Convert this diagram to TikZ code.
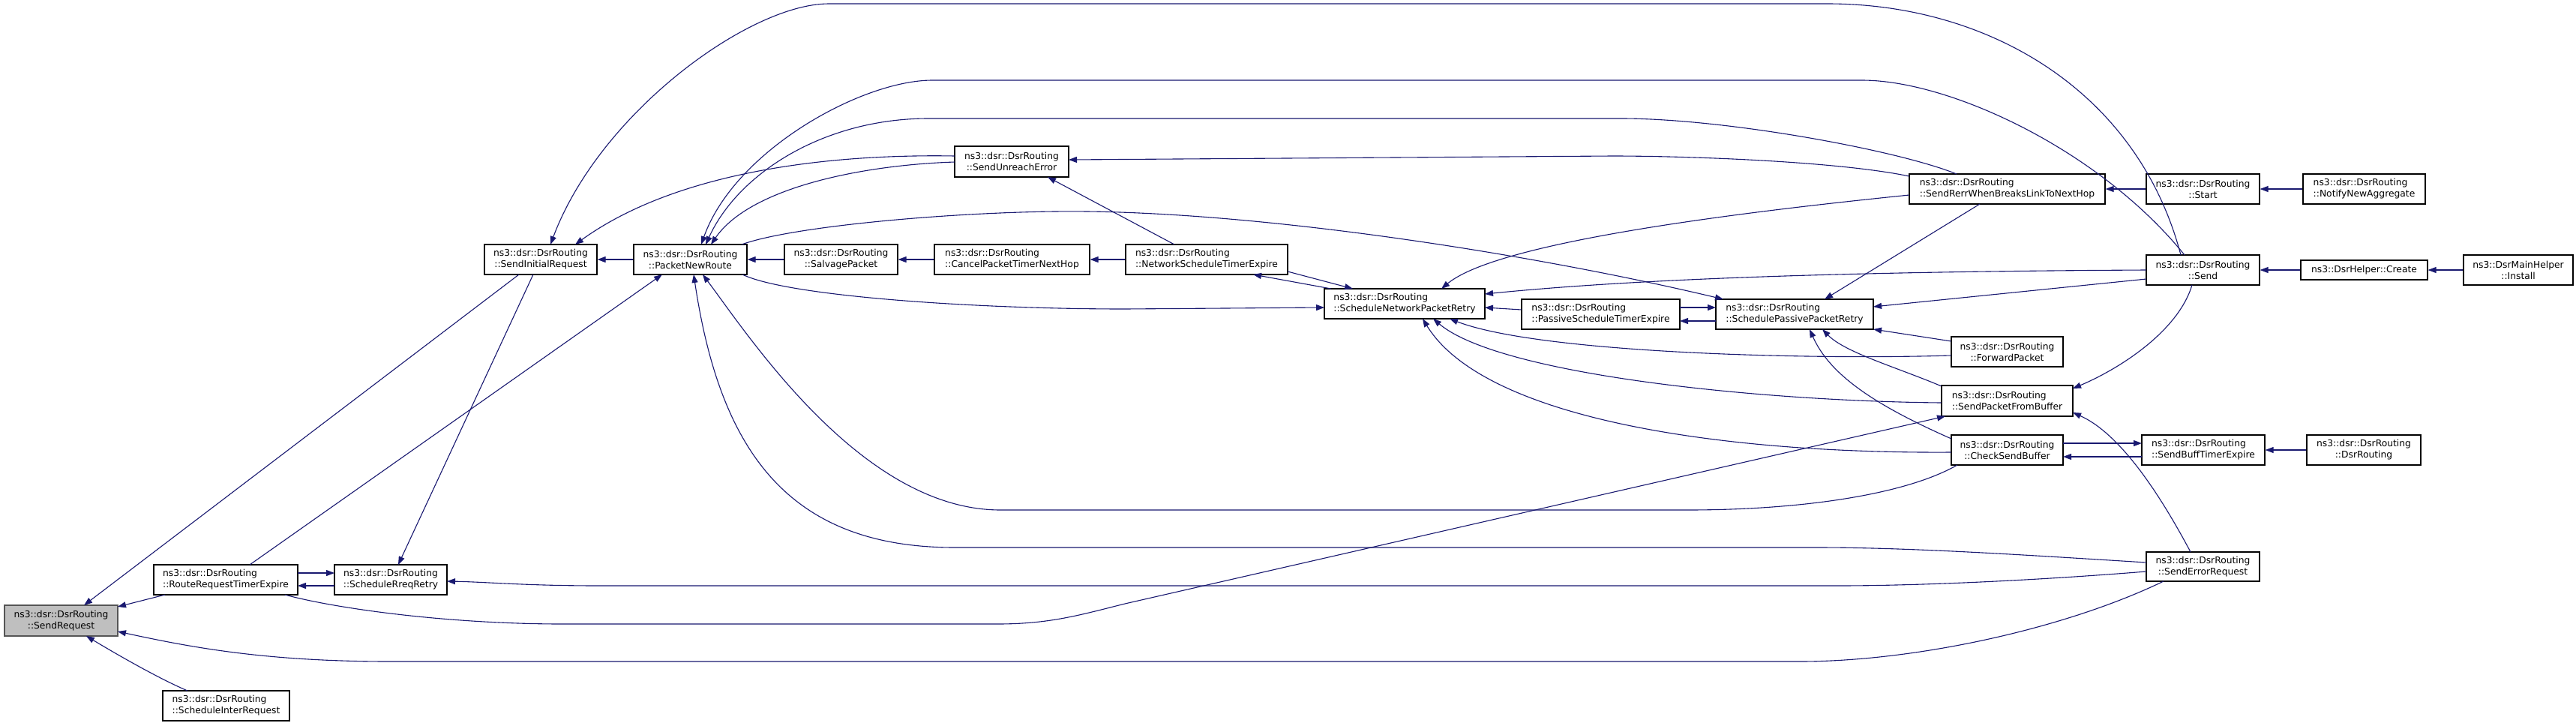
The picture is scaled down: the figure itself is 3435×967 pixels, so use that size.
\documentclass[tikz,border=0pt]{standalone}
\usepackage{fontspec}
\setmainfont{DejaVu Sans}
\usetikzlibrary{arrows.meta,calc}
\definecolor{edgeblue}{HTML}{191970}
\definecolor{rootfill}{HTML}{BFBFBF}
\definecolor{rootdraw}{HTML}{555555}
\begin{document}
\begin{tikzpicture}[x=1pt,y=-1pt,
  fn/.style={draw=black, fill=white, line width=1.2pt, inner sep=0pt, minimum height=40pt,
             font=\fontsize{12.3}{15}\selectfont, align=center},
  fnl/.style={fn, align=left},
  root/.style={fn, fill=rootfill, draw=rootdraw},
  call/.style={draw=edgeblue, line width=1.1pt, -{Triangle[length=11pt,width=8pt]}}
]
\useasboundingbox (0,0) rectangle (3435,967);

% nodes
\node[root, minimum width=151pt, minimum height=41pt] (req) at (81.5,827.5) {ns3::dsr::DsrRouting\\::SendRequest};
\node[fnl, minimum width=192pt] (rrte) at (301,773) {ns3::dsr::DsrRouting\\::RouteRequestTimerExpire};
\node[fnl, minimum width=169pt] (sir2) at (301.5,941) {ns3::dsr::DsrRouting\\::ScheduleInterRequest};
\node[fn, minimum width=150pt] (srr) at (521,773) {ns3::dsr::DsrRouting\\::ScheduleRreqRetry};
\node[fn, minimum width=150pt] (sir) at (721,346) {ns3::dsr::DsrRouting\\::SendInitialRequest};
\node[fn, minimum width=151pt] (pnr) at (920.5,346) {ns3::dsr::DsrRouting\\::PacketNewRoute};
\node[fn, minimum width=151pt] (salv) at (1121.5,346) {ns3::dsr::DsrRouting\\::SalvagePacket};
\node[fnl, minimum width=207pt] (cancel) at (1349.5,346) {ns3::dsr::DsrRouting\\::CancelPacketTimerNextHop};
\node[fnl, minimum width=216pt] (nste) at (1609,346) {ns3::dsr::DsrRouting\\::NetworkScheduleTimerExpire};
\node[fn, minimum width=152pt, minimum height=41pt] (sue) at (1349,215.5) {ns3::dsr::DsrRouting\\::SendUnreachError};
\node[fnl, minimum width=214pt] (snpr) at (1873,405) {ns3::dsr::DsrRouting\\::ScheduleNetworkPacketRetry};
\node[fnl, minimum width=211pt] (pste) at (2134.5,419) {ns3::dsr::DsrRouting\\::PassiveScheduleTimerExpire};
\node[fnl, minimum width=210pt] (sppr) at (2393,419) {ns3::dsr::DsrRouting\\::SchedulePassivePacketRetry};
\node[fnl, minimum width=261pt] (rerr) at (2676.5,252) {ns3::dsr::DsrRouting\\::SendRerrWhenBreaksLinkToNextHop};
\node[fn, minimum width=151pt] (start) at (2937.5,252) {ns3::dsr::DsrRouting\\::Start};
\node[fnl, minimum width=163pt] (notify) at (3152.5,252) {ns3::dsr::DsrRouting\\::NotifyNewAggregate};
\node[fn, minimum width=151pt] (send) at (2937.5,360) {ns3::dsr::DsrRouting\\::Send};
\node[fn, minimum width=169pt, minimum height=26pt] (create) at (3152.5,360) {ns3::DsrHelper::Create};
\node[fn, minimum width=146pt] (install) at (3358,360) {ns3::DsrMainHelper\\::Install};
\node[fn, minimum width=149pt] (fwd) at (2676.5,469) {ns3::dsr::DsrRouting\\::ForwardPacket};
\node[fnl, minimum width=175pt, minimum height=41pt] (spfb) at (2676.5,534.5) {ns3::dsr::DsrRouting\\::SendPacketFromBuffer};
\node[fn, minimum width=149pt] (csb) at (2676.5,600) {ns3::dsr::DsrRouting\\::CheckSendBuffer};
\node[fnl, minimum width=164pt] (sbte) at (2938,600) {ns3::dsr::DsrRouting\\::SendBuffTimerExpire};
\node[fn, minimum width=152pt] (ctor) at (3152,600) {ns3::dsr::DsrRouting\\::DsrRouting};
\node[fn, minimum width=151pt, minimum height=39pt] (ser) at (2937.5,755.5) {ns3::dsr::DsrRouting\\::SendErrorRequest};

% edges into SendRequest
\draw[call] ($(sir)+(-29,20)$) -- ($(req)+(30.5,-20.5)$);
\draw[call] ($(rrte)+(-81,20)$) -- ($(req)+(75.5,-18.5)$);
\draw[call] ($(sir2)+(-51.5,-20)$) .. controls (215,906) and (165,878) .. ($(req)+(33.5,20.5)$);
\draw[call] ($(ser)+(-52.5,19.5)$) .. controls (2750,840) and (2550,882) .. (2400,882) -- (520,882)
   .. controls (350,882) and (250,862) .. ($(req)+(75.5,14.5)$);

% RouteRequestTimerExpire <-> ScheduleRreqRetry
\draw[call] ($(rrte)+(96,-9)$) -- ($(srr)+(-75,-9)$);
\draw[call] ($(srr)+(-75,8)$) -- ($(rrte)+(96,8)$);
\draw[call] ($(ser)+(-75.5,6.5)$) .. controls (2700,775) and (2550,781) .. (2450,781) -- (800,781)
   .. controls (700,781) and (650,776) .. ($(srr)+(75,2)$);
\draw[call] ($(sir)+(-10,20)$) -- ($(srr)+(10,-20)$);

% PacketNewRoute and chain
\draw[call] ($(rrte)+(32,-20)$) -- ($(pnr)+(-37.5,20)$);
\draw[call] (pnr.west) -- (sir.east);
\draw[call] (salv.west) -- (pnr.east);
\draw[call] (cancel.west) -- (salv.east);
\draw[call] (nste.west) -- (cancel.east);

% top arcs
\draw[call] ($(send)+(-29.5,-20)$) .. controls (2850,120) and (2650,5) .. (2437,5) -- (1105,5)
   .. controls (1000,5) and (800,150) .. ($(sir)+(13,-20)$);
\draw[call] ($(send)+(-24.5,-20)$) .. controls (2800,200) and (2600,107) .. (2483,107) -- (1243,107)
   .. controls (1150,107) and (980,200) .. ($(pnr)+(14.5,-20)$);
\draw[call] ($(rerr)+(-67.5,-20)$) .. controls (2530,200) and (2300,158) .. (2162,158) -- (1238,158)
   .. controls (1100,158) and (985,230) .. ($(pnr)+(20.5,-20)$);
\draw[call] ($(sue)+(-76,0.5)$) .. controls (1150,220) and (1000,250) .. ($(pnr)+(27.5,-20)$);
\draw[call] ($(sue)+(-76,-7.5)$) .. controls (1100,205) and (900,230) .. ($(sir)+(46,-20)$);
\draw[call] ($(rerr)+(-130.5,-17)$) .. controls (2450,215) and (2250,208) .. (2150,208) -- ($(sue)+(76,-2.5)$);
\draw[call] ($(nste)+(-43,-20)$) -- ($(sue)+(48,20.5)$);

% PacketNewRoute -> retry functions
\draw[call] ($(pnr)+(68.5,-20)$) .. controls (1060,300) and (1300,280) .. (1450,282)
   .. controls (1700,285) and (2050,340) .. ($(sppr)+(-95,-20)$);
\draw[call] ($(pnr)+(69.5,20)$) .. controls (1050,395) and (1300,412) .. (1500,412) -- ($(snpr)+(-107,5)$);
\draw[call] ($(nste)+(108,16)$) -- ($(snpr)+(-69,-20)$);
\draw[call] ($(snpr)+(-98,-20)$) -- ($(nste)+(62,20)$);

% into ScheduleNetworkPacketRetry / SchedulePassivePacketRetry
\draw[call] ($(rerr)+(-130.5,8)$) .. controls (2350,280) and (2000,320) .. ($(snpr)+(49,-20)$);
\draw[call] ($(rerr)+(-36.5,20)$) -- ($(sppr)+(40,-20)$);
\draw[call] ($(send)+(-75.5,0)$) .. controls (2500,362) and (2200,370) .. ($(snpr)+(107,-13)$);
\draw[call] ($(send)+(-75.5,12)$) -- ($(sppr)+(105,-10)$);
\draw[call] ($(pste)+(-105.5,-6)$) -- ($(snpr)+(107,5)$);
\draw[call] ($(pste)+(105.5,-9)$) -- ($(sppr)+(-105,-9)$);
\draw[call] ($(sppr)+(-105,9)$) -- ($(pste)+(105.5,9)$);
\draw[call] ($(fwd)+(-74.5,-14)$) -- ($(sppr)+(105,20)$);
\draw[call] ($(fwd)+(-74.5,5)$) .. controls (2400,480) and (2050,470) .. ($(snpr)+(60,20)$);
\draw[call] ($(spfb)+(-87.5,2.5)$) .. controls (2350,535) and (2000,500) .. ($(snpr)+(38,20)$);
\draw[call] ($(spfb)+(-87.5,-19.5)$) .. controls (2530,490) and (2460,470) .. ($(sppr)+(37,20)$);
\draw[call] ($(csb)+(-74.5,3)$) .. controls (2300,605) and (1980,560) .. ($(snpr)+(24,20)$);
\draw[call] ($(csb)+(-74.5,-15)$) .. controls (2500,540) and (2440,500) .. ($(sppr)+(20,20)$);

% SendPacketFromBuffer
\draw[call] ($(send)+(-14.5,20)$) .. controls (2905,440) and (2830,490) .. ($(spfb)+(87.5,-16.5)$);
\draw[call] ($(ser)+(-16.5,-19.5)$) .. controls (2870,640) and (2820,575) .. ($(spfb)+(87.5,15.5)$);
\draw[call] ($(rrte)+(79,20)$) .. controls (450,812) and (600,832) .. (750,832) -- (1330,832)
   .. controls (1400,832) and (1440,820) .. (1500,805) -- ($(spfb)+(-82.5,20.5)$);

% CheckSendBuffer <-> SendBuffTimerExpire
\draw[call] ($(csb)+(74.5,-9)$) -- ($(sbte)+(-82,-9)$);
\draw[call] ($(sbte)+(-82,9)$) -- ($(csb)+(74.5,9)$);
\draw[call] (ctor.west) -- (sbte.east);

% long curves into PacketNewRoute bottom
\draw[call] ($(csb)+(-66.5,20)$) .. controls (2540,660) and (2400,680) .. (2250,680) -- (1334,680)
   .. controls (1150,680) and (1000,450) .. ($(pnr)+(16.5,20)$);
\draw[call] ($(ser)+(-75.5,-5.5)$) .. controls (2700,740) and (2550,730) .. (2423,730) -- (1273,730)
   .. controls (1050,730) and (960,600) .. ($(pnr)+(4.5,20)$);

% right side chains
\draw[call] (start.west) -- (rerr.east);
\draw[call] (notify.west) -- (start.east);
\draw[call] (create.west) -- (send.east);
\draw[call] (install.west) -- (create.east);
\end{tikzpicture}
\end{document}
